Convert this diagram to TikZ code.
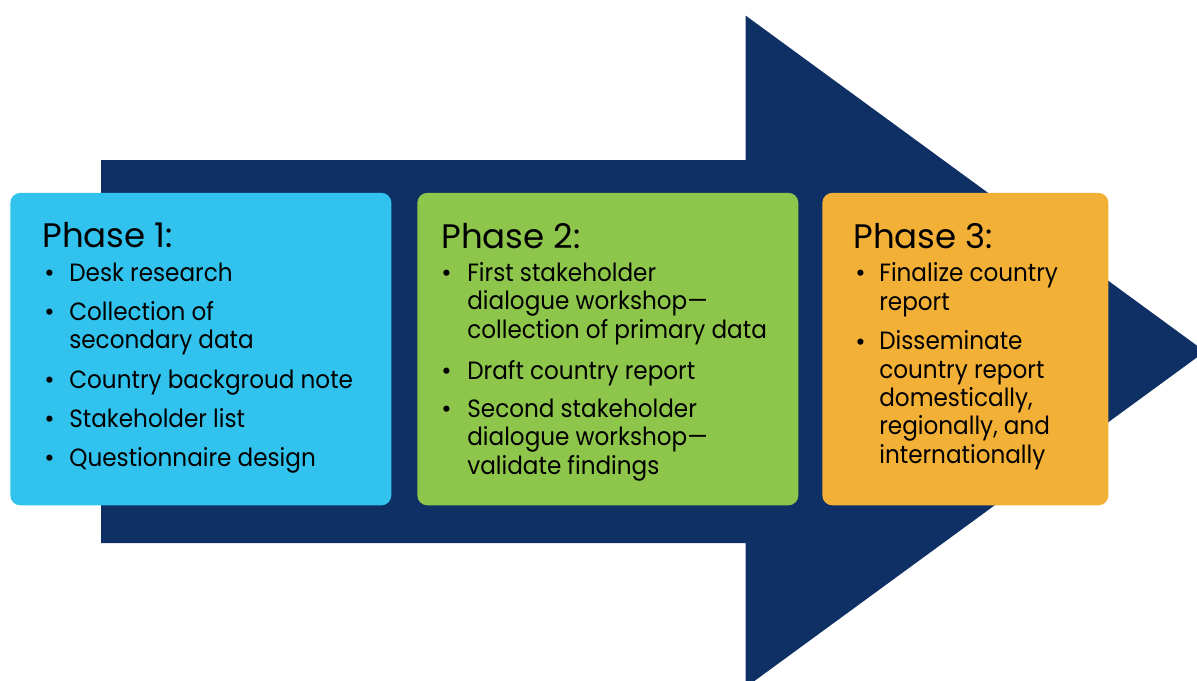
\documentclass[tikz,border=0pt]{standalone}
\usepackage{fontspec}
\setmainfont{Poppins}
\newfontfamily\listfont{Poppins}[FakeStretch=0.925]
\usepackage{xcolor}
\definecolor{arrownavy}{RGB}{15,48,100}
\definecolor{phasecyan}{RGB}{49,195,238}
\definecolor{phasegreen}{RGB}{141,198,74}
\definecolor{phaseorange}{RGB}{243,176,54}

\begin{document}
\begin{tikzpicture}[x=0.6pt,y=-0.6pt]
	\tikzstyle{phasebox} = [rectangle,rounded corners=6pt,anchor=north west,inner sep=0pt,minimum height=187.5pt]
	\tikzstyle{phasetitle} = [anchor=base west,inner sep=0pt,font=\fontsize{20.4}{24}\selectfont]
	\tikzstyle{phasedot} = [anchor=base west,inner sep=0pt,font=\fontsize{15}{17}\selectfont]
	% multi-line items sit on the baseline of their last line
	\tikzstyle{phaseitem} = [anchor=base west,inner sep=0pt,align=left,font=\listfont\fontsize{15}{17}\selectfont]
	\useasboundingbox (0,0) rectangle (1197,680);

	% big arrow behind the three phases
	\fill[arrownavy] (101,160) -- (745.5,160) -- (745.5,15.5) -- (1205,351.5) -- (745.5,687.5) -- (745.5,543) -- (101,543) -- cycle;

	\node[phasebox,fill=phasecyan,minimum width=228.6pt] (p1) at (10,192.5) {};
	\node[phasebox,fill=phasegreen,minimum width=228.6pt] (p2) at (417,192.5) {};
	\node[phasebox,fill=phaseorange,minimum width=171.6pt] (p3) at (822,192.5) {};

	% phase 1
	\node[phasetitle] (t1) at (42,247.3) {Phase 1:};
	\node[phasedot] (d11) at (44,281.7) {\textbullet};
	\node[phaseitem] (i11) at (69,281.7) {Desk research};
	\node[phasedot] (d12) at (44,320) {\textbullet};
	\node[phaseitem] (i12) at (69,348.7) {Collection of\\secondary data};
	\node[phasedot] (d13) at (44,388) {\textbullet};
	\node[phaseitem] (i13) at (69,388) {Country backgroud note};
	\node[phasedot] (d14) at (44,427.3) {\textbullet};
	\node[phaseitem] (i14) at (69,427.3) {Stakeholder list};
	\node[phasedot] (d15) at (44,466.7) {\textbullet};
	\node[phaseitem] (i15) at (69,466.7) {Questionnaire design};

	% phase 2
	\node[phasetitle] (t2) at (441,248.3) {Phase 2:};
	\node[phasedot] (d21) at (441,281.7) {\textbullet};
	\node[phaseitem] (i21) at (467,338.3) {First stakeholder\\dialogue workshop—\\collection of primary data};
	\node[phasedot] (d22) at (441,379) {\textbullet};
	\node[phaseitem] (i22) at (467,379) {Draft country report};
	\node[phasedot] (d23) at (441,417.7) {\textbullet};
	\node[phaseitem] (i23) at (467,474.3) {Second stakeholder\\dialogue workshop—\\validate findings};

	% phase 3
	\node[phasetitle] (t3) at (853,248.3) {Phase 3:};
	\node[phasedot] (d31) at (855,281.7) {\textbullet};
	\node[phaseitem] (i31) at (879,310) {Finalize country\\report};
	\node[phasedot] (d32) at (855,350) {\textbullet};
	\node[phaseitem] (i32) at (879,463.3) {Disseminate\\country report\\domestically,\\regionally, and\\internationally};
\end{tikzpicture}
\end{document}
